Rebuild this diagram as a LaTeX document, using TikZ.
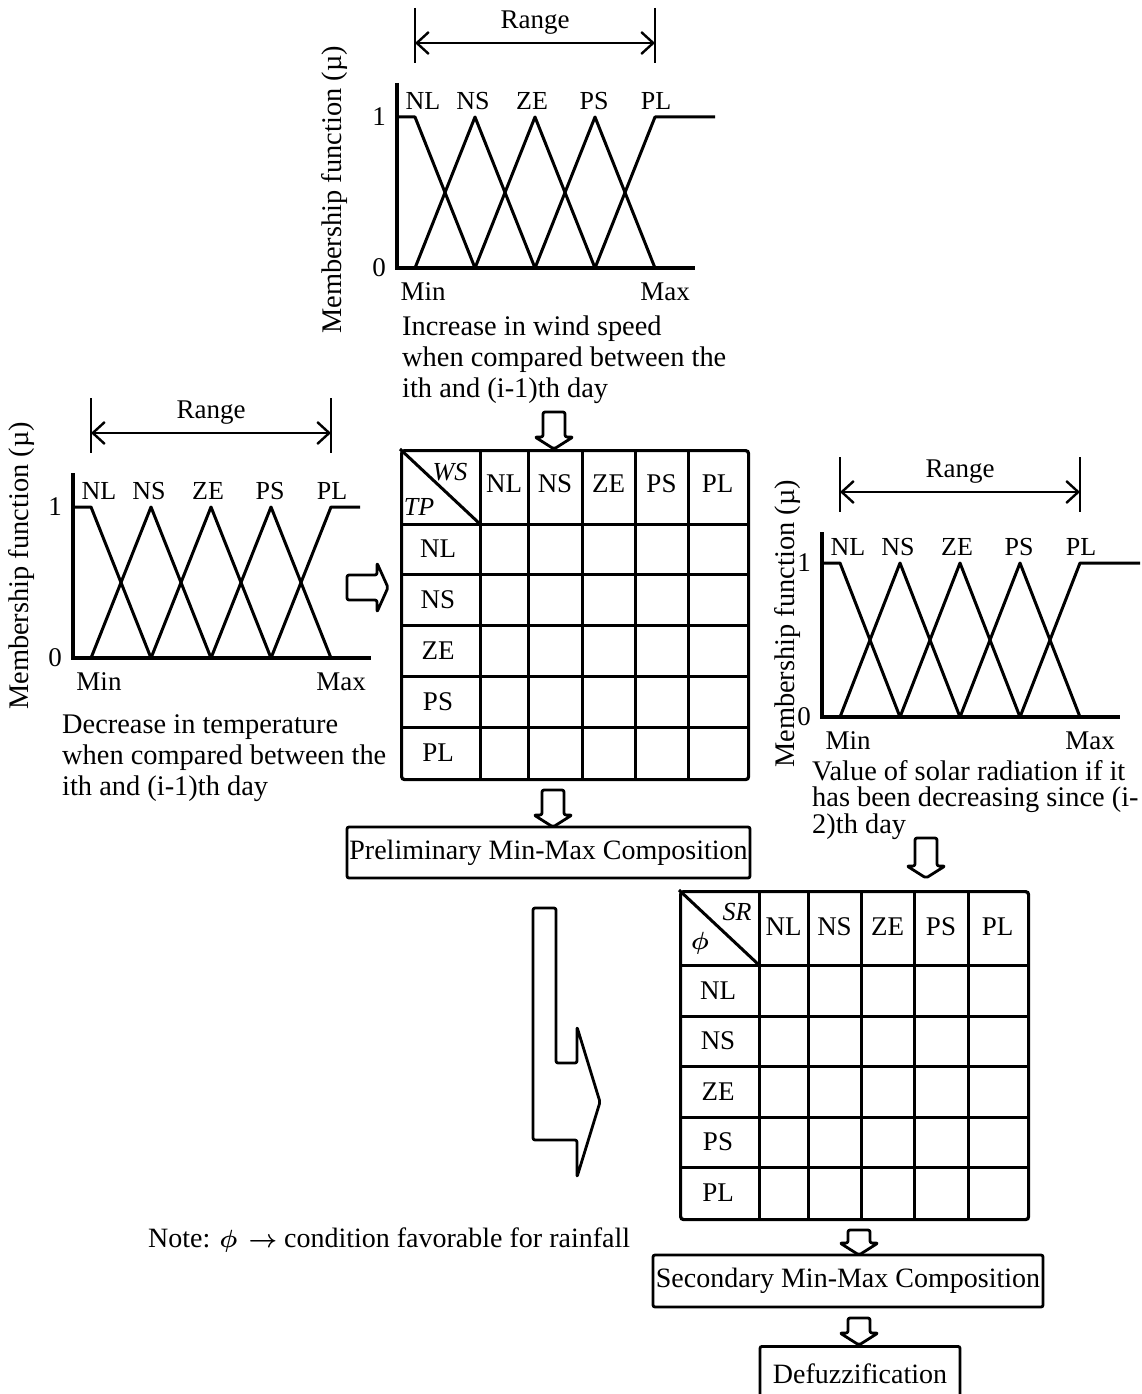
\documentclass[tikz,border=0pt]{standalone}
\usepackage{amsmath}
\usepackage{fontspec}
\setmainfont{Liberation Serif}
\usetikzlibrary{arrows.meta,calc}
\tikzset{
  txt/.style={inner sep=0pt, font=\fontsize{27}{30}\selectfont},
  capt/.style={txt, font=\fontsize{28.4}{31}\selectfont, align=left, anchor=north west},
  flab/.style={txt, font=\fontsize{26}{28}\selectfont},
  tlab/.style={txt, font=\fontsize{27}{29}\selectfont},
  ilab/.style={txt, font=\fontsize{26}{28}\selectfont\itshape},
  memline/.style={line width=3pt, line join=round},
  axisl/.style={line width=3.2pt},
  rngl/.style={line width=2.4pt},
  tabframe/.style={draw, line width=3.2pt, rounded corners=3pt, inner sep=0pt},
  gridl/.style={line width=3pt},
  box/.style={draw, line width=2.8pt, rounded corners=2pt, inner sep=0pt, font=\fontsize{28}{30}\selectfont},
  blk/.style={draw, line width=2.8pt, rounded corners=2pt, line join=round, fill=white},
}
% one membership plot, origin at the foot of the mu axis
\newcommand{\memchart}[4]{%
  \draw[axisl] (0,-185) -- (0,0) -- (298,0);
  \draw[memline] (0,-#1) -- (18,-#1) -- (78,0);
  \foreach \p in {78,138,198}
    \draw[memline] ({\p-60},0) -- (\p,-#1) -- ({\p+60},0);
  \draw[memline] (198,0) -- (258,-#1) -- (#2,-#1);
  \foreach \lab/\dx [count=\i] in {NL/8,NS/-2,ZE/-3,PS/-1,PL/1}
    \node[flab] (f\i) at ({-42+60*\i+\dx},{-#1-16}) {\lab};
  \node[txt] (one) at (-18,-#1) {1};
  \node[txt] (zero) at (-18,0) {0};
  \node[txt] (min) at (26,24) {Min};
  \node[txt] (max) at (268,24) {Max};
  \draw[rngl] (18,-260) -- (18,-205) (258,-260) -- (258,-205);
  \draw[rngl, {Straight Barb[length=12pt,width=22pt]}-{Straight Barb[length=12pt,width=22pt]}] (18,-225) -- (258,-225);
  \node[txt] (rng) at (138,-245) {Range};
  \node[txt, rotate=90, font=\fontsize{28.4}{30}\selectfont] (ylab) at (#3,#4) {Membership function (µ)};
}
% hollow block arrow pointing down: x, top, tip
\newcommand{\fatdown}[3]{%
  \draw[blk] ({#1-11},{#3-12}) -- ({#1-11},#2) -- ({#1+11},#2) -- ({#1+11},{#3-12})
    -- ({#1+19},{#3-12}) -- (#1,#3) -- ({#1-19},{#3-12}) -- cycle;
}
\begin{document}
\begin{tikzpicture}[x=1pt, y=-1pt]
  \useasboundingbox (0,0) rectangle (1142,1394);
  % wind speed
  \begin{scope}[shift={(397,268)}, name prefix=ws-]
    \memchart{151}{318}{-62}{-78}
  \end{scope}
  \node[capt] (wsnote) at (402,316) {Increase in wind speed\\when compared between the\\ith and (i-1)th day};
  % temperature
  \begin{scope}[shift={(73,658)}, name prefix=tp-]
    \memchart{151}{287}{-51}{-92}
  \end{scope}
  \node[capt] (tpnote) at (62,714) {Decrease in temperature\\when compared between the\\ith and (i-1)th day};
  % solar radiation
  \begin{scope}[shift={(822,717)}, name prefix=sr-]
    \memchart{154}{318}{-34}{-93}
  \end{scope}
  \node[capt, font=\fontsize{28.4}{26.5}\selectfont] (srnote) at (812,760) {Value of solar radiation if it\\has been decreasing since (i-\\2)th day};

  % first rule table
  \node[tabframe, minimum width=347pt, minimum height=329pt, anchor=north west] (tabA) at (400,449) {};
  \foreach \x in {480,528,582,635,688} \draw[gridl] (\x,449) -- (\x,778);
  \foreach \y in {524,574,625,676,727} \draw[gridl] (400,\y) -- (747,\y);
  \draw[gridl] (tabA.north west) -- (480,524);
  \node[ilab] (ws) at (450,472) {WS};
  \node[ilab] (tp) at (419,507) {TP};
  \foreach \lab/\xa/\xb [count=\i] in {NL/480/528,NS/528/582,ZE/582/635,PS/635/688,PL/688/747}
    \node[tlab] (cA\i) at ({(\xa+\xb)/2},484) {\lab};
  \foreach \lab/\ya/\yb [count=\i] in {NL/524/574,NS/574/625,ZE/625/676,PS/676/727,PL/727/778}
    \node[tlab] (rA\i) at (438,{(\ya+\yb)/2}) {\lab};

  % second rule table
  \node[tabframe, minimum width=348pt, minimum height=328pt, anchor=north west] (tabB) at (679,890) {};
  \foreach \x in {759,808,861,914,968} \draw[gridl] (\x,890) -- (\x,1218);
  \foreach \y in {965,1016,1066,1117,1167} \draw[gridl] (679,\y) -- (1027,\y);
  \draw[gridl] (tabB.north west) -- (759,965);
  \node[ilab] (sr) at (737,912) {SR};
  \node[txt, font=\fontsize{28}{30}\selectfont] (phi) at (700,943) {$\boldsymbol{\phi}$};
  \foreach \lab/\xa/\xb [count=\i] in {NL/759/808,NS/808/861,ZE/861/914,PS/914/968,PL/968/1027}
    \node[tlab] (cB\i) at ({(\xa+\xb)/2},927) {\lab};
  \foreach \lab/\ya/\yb [count=\i] in {NL/965/1016,NS/1016/1066,ZE/1066/1117,PS/1117/1167,PL/1167/1218}
    \node[tlab] (rB\i) at (718,{(\ya+\yb)/2}) {\lab};

  % composition steps
  \node[box, minimum width=403pt, minimum height=51pt] (prelim) at (548.5,852.5) {Preliminary Min-Max Composition};
  \node[box, minimum width=390pt, minimum height=52pt] (second) at (848,1281) {Secondary Min-Max Composition};
  \node[box, minimum width=200pt, minimum height=54pt, anchor=north] (defuzz) at (860,1345) {Defuzzification};

  % block arrows
  \fatdown{554}{412}{449}
  \fatdown{553}{790}{827}
  \fatdown{926}{838}{878}
  \fatdown{859}{1230}{1255}
  \fatdown{859}{1318}{1345}
  \draw[blk] (347,575) -- (377,575) -- (377,563) -- (388,587.5) -- (377,612) -- (377,600) -- (347,600) -- cycle;
  \draw[blk] (533,908) -- (556,908) -- (556,1063) -- (577,1063) -- (577,1027) -- (600,1102)
    -- (577,1177) -- (577,1140) -- (533,1140) -- cycle;

  \node[txt, font=\fontsize{28}{30}\selectfont, anchor=west] (note) at (148,1240) {Note: $\boldsymbol{\phi}\,\boldsymbol{\rightarrow}$ condition favorable for rainfall};
\end{tikzpicture}
\end{document}
